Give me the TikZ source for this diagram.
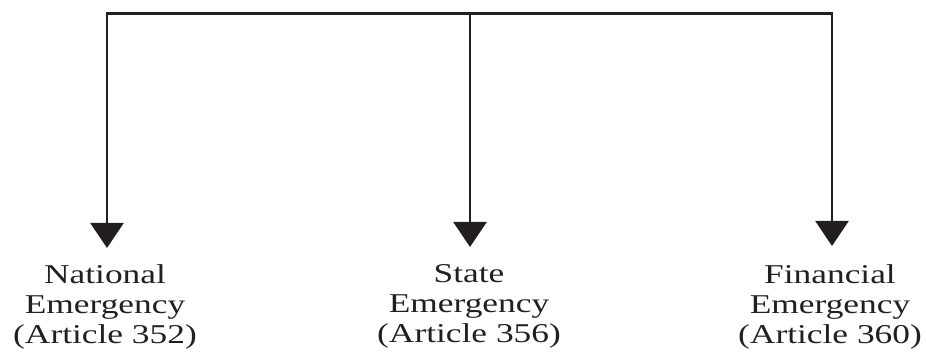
\documentclass[tikz,border=0pt]{standalone}
\usepackage{fontspec}
\setmainfont{Liberation Serif}[FakeStretch=1.3]
\usetikzlibrary{arrows.meta}
\definecolor{ink}{HTML}{231F20}
\begin{document}
\begin{tikzpicture}[x=1pt,y=-1pt,
  conn/.style={draw=ink,line width=2.5pt},
  arr/.style={conn,-{Triangle[length=25pt,width=33pt]}},
  label/.style={align=center,inner sep=0pt,anchor=north,text=ink,
    font=\fontsize{27.2}{30}\selectfont}]
\useasboundingbox (0,0) rectangle (926,352);
\coordinate (tl) at (107,13.5);
\coordinate (tm) at (470,13.5);
\coordinate (tr) at (832,13.5);
\coordinate (bl) at (107,248);
\coordinate (bm) at (470,247);
\coordinate (br) at (832,246);
\node[label] (nat) at (105,264.5) {National\\Emergency\\(Article 352)};
\node[label] (sta) at (469,264.5) {State\\Emergency\\(Article 356)};
\node[label] (fin) at (830,264.5) {Financial\\Emergency\\(Article 360)};
\draw[conn,line cap=rect] (tl) -- (tr);
\draw[arr] (tl) -- (bl);
\draw[arr] (tm) -- (bm);
\draw[arr] (tr) -- (br);
\end{tikzpicture}
\end{document}
